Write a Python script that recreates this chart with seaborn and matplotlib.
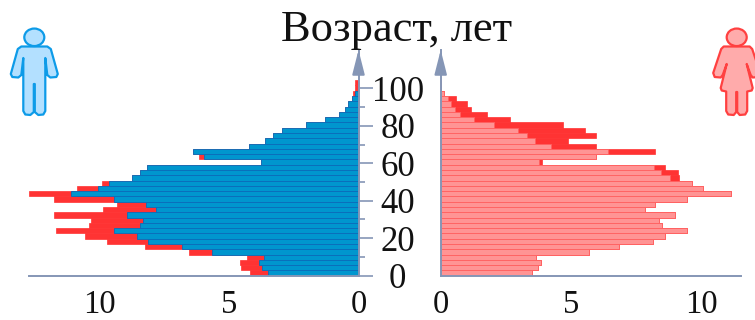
import numpy as np
import pandas as pd
import matplotlib
matplotlib.use('Agg')
import matplotlib.pyplot as plt
from matplotlib.patches import Ellipse, Polygon
import seaborn as sns

# Percent of population in each age band, bottom band first
MALE = [
    4.19, 4.54, 4.60, 4.32, 6.56, 8.27, 9.72, 10.59, 11.70, 10.41,
    10.33, 11.76, 9.88, 9.32, 11.76, 12.73, 10.87, 9.93, 8.77, 8.45,
    8.16, 3.78, 6.15, 6.41, 4.23, 3.60, 3.29, 2.95, 2.04, 1.29,
    .75, .54, .40, .27, .22, .12, .12
]
FEMALE = [
    3.49, 3.74, 3.83, 3.64, 5.67, 6.83, 8.15, 8.58, 9.45, 8.46,
    8.35, 8.97, 7.82, 8.20, 9.45, 11.11, 10.06, 9.64, 9.12, 9.08,
    8.59, 3.90, 5.96, 8.21, 5.96, 4.88, 5.95, 5.54, 4.70, 2.66,
    1.79, 1.16, 1.01, .59, .13, 0, 0
]
TITLE = 'Возраст, лет'
AGE_MAJOR = [0, 20, 40, 60, 80, 100]
AGE_MINOR = [10, 30, 50, 70, 90]
PCT_TICKS = [0, 5, 10]
BAND = 2.82
###############################################################################
# Setup
###############################################################################
sns.set_theme(style='white')
plt.rcParams['font.family'] = ['Liberation Serif', 'DejaVu Serif']
(W, H) = (755, 320)
(AXIS, TXT) = ('#8596B6', '#111111')
(BLUE, BLUE_E, RED, PINK, PINK_E) = (
    '#0096CE', '#0A6CBB', '#FF3333', '#FF9494', '#FF6060'
)
DATA = pd.DataFrame({'male': MALE, 'female': FEMALE})
DATA['common'] = DATA[['male', 'female']].min(axis=1)
DATA['age'] = (np.arange(len(DATA)) + .5) * BAND
(yBot, yTop) = (275.7, 50)
AGE_TOP = (yBot - yTop) / 1.874


def pxBox(x0, x1):
    return [x0 / W, 1 - yBot / H, (x1 - x0) / W, (yBot - yTop) / H]


fig = plt.figure(figsize=(W / 100, H / 100), dpi=100)
axL = fig.add_axes(pxBox(29, 358.5))
axR = fig.add_axes(pxBox(440.7, 740.7))
###############################################################################
# Bars
###############################################################################
opts = dict(
    data=DATA, y='age', orient='y', native_scale=True, width=1,
    saturation=1, errorbar=None
)
sns.barplot(x='male', ax=axL, color=RED, edgecolor=RED, linewidth=.5, **opts)
sns.barplot(x='common', ax=axL, color=BLUE, edgecolor=BLUE_E, linewidth=.6, **opts)
sns.barplot(x='female', ax=axR, color=RED, edgecolor=RED, linewidth=.5, **opts)
sns.barplot(x='common', ax=axR, color=PINK, edgecolor=PINK_E, linewidth=.6, **opts)
###############################################################################
# Axes
###############################################################################
axL.set_xlim(12.74, 0)
axR.set_xlim(0, 300 / 26.1)
for (a, side) in ((axL, 'right'), (axR, 'left')):
    a.set(xlabel='', ylabel='', ylim=(0, AGE_TOP), facecolor='none')
    a.patch.set_alpha(0)
    for s in ('top', 'left', 'right', 'bottom'):
        a.spines[s].set_visible(s in ('bottom', side))
        a.spines[s].set_color(AXIS)
        a.spines[s].set_linewidth(1.4)
    a.set_xticks(PCT_TICKS)
    a.set_xticklabels([str(i) for i in PCT_TICKS])
    a.set_yticks(AGE_MAJOR)
    a.set_yticks(AGE_MINOR, minor=True)
    a.tick_params(
        axis='x', length=8.4, width=1.2, color=AXIS, pad=1.8,
        labelsize=23.5, labelcolor=TXT
    )
    a.tick_params(axis='y', which='major', length=10, width=1.2, color=AXIS)
    a.tick_params(axis='y', which='minor', length=4, width=1.2, color=AXIS)
    a.annotate(
        '', xy=(0, 1), xycoords=('data', 'axes fraction'),
        xytext=(0, -16), textcoords='offset points',
        arrowprops=dict(
            arrowstyle='-|>,head_length=1.5,head_width=.38',
            color=AXIS, shrinkA=0, shrinkB=0, lw=1.4, mutation_scale=10
        ), annotation_clip=False
    )
axL.yaxis.tick_right()
axL.tick_params(axis='y', which='both', labelright=False)
axR.tick_params(axis='y', which='major', pad=21, labelsize=25, labelcolor=TXT)
axR.set_yticklabels([str(i) for i in AGE_MAJOR])
for lab in axR.get_yticklabels():
    lab.set_ha('center')
###############################################################################
# Title and figures
###############################################################################
fig.text(396.5 / W, 1 - 40.7 / H, TITLE, ha='center', va='baseline', fontsize=32, color=TXT)
over = fig.add_axes([0, 0, 1, 1], facecolor='none')
over.set(xlim=(0, W), ylim=(H, 0))
over.axis('off')
(xM, xF) = (34.3, 736.7)
halfM = [
    (0, 46.5), (-13, 46.5), (-16.5, 49), (-23.5, 74), (-22, 77), (-16, 77.5),
    (-13, 75), (-11, 58), (-11, 111), (-9, 114.5), (-4, 115), (-.5, 112), (-.5, 84),
]
halfF = [
    (0, 46.5), (-13, 46.5), (-15.5, 49), (-23.5, 73), (-22, 77), (-16, 77.5),
    (-14, 75), (-10, 64), (-16, 88), (-15, 90.5), (-10.5, 91.5), (-10.5, 111),
    (-8.5, 114.5), (-3, 115), (-.5, 112), (-.5, 92),
]
for (xc, half, fc, ec) in (
    (xM, halfM, '#B3E0FF', '#0D9BE8'), (xF, halfF, '#FFABAB', '#FF4040')
):
    pts = [(xc + dx, y) for (dx, y) in half]
    pts += [(xc - dx, y) for (dx, y) in half[::-1]]
    over.add_patch(Polygon(pts, closed=True, fc=fc, ec=ec, lw=1.6, joinstyle='round'))
    over.add_patch(Ellipse((xc, 37.3), 20, 17.5, fc=fc, ec=ec, lw=1.6))
fig.savefig('out.png', dpi=100)
